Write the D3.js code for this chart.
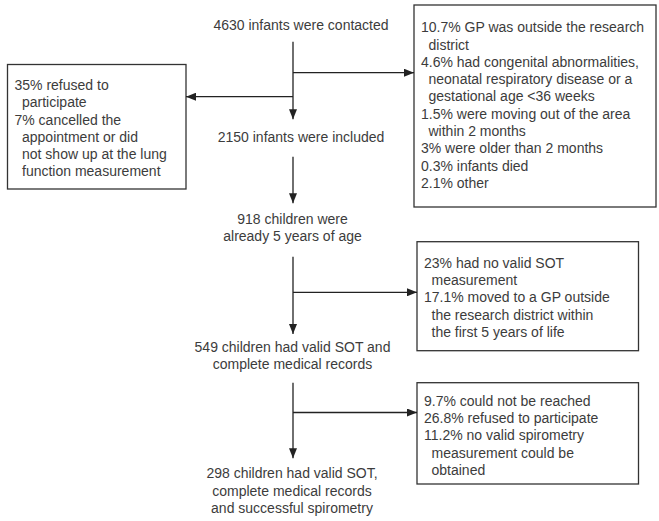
<!DOCTYPE html>
<html>
<head>
<meta charset="utf-8">
<script src="https://cdn.jsdelivr.net/npm/d3@7"></script>
<style>
  body { margin: 0; background: #fff; }
  text { font-family: "Liberation Sans", Arial, sans-serif; font-size: 14px; fill: #3c3c3c; }
</style>
</head>
<body>
<div id="chart"></div>
<script>
// flow chart text, one array per box
var mainSteps = [
  ["4630 infants were contacted"],
  ["2150 infants were included"],
  ["918 children were", "already 5 years of age"],
  ["549 children had valid SOT and", "complete medical records"],
  ["298 children had valid SOT,", "complete medical records", "and successful spirometry"]
];

var excludedLeft = [
  ["35% refused to", "participate"],
  ["7% cancelled the", "appointment or did", "not show up at the lung", "function measurement"]
];

var excludedFirst = [
  ["10.7% GP was outside the research", "district"],
  ["4.6% had congenital abnormalities,", "neonatal respiratory disease or a", "gestational age <36 weeks"],
  ["1.5% were moving out of the area", "within 2 months"],
  ["3% were older than 2 months"],
  ["0.3% infants died"],
  ["2.1% other"]
];

var excludedSecond = [
  ["23% had no valid SOT", "measurement"],
  ["17.1% moved to a GP outside", "the research district within", "the first 5 years of life"]
];

var excludedThird = [
  ["9.7% could not be reached"],
  ["26.8% refused to participate"],
  ["11.2% no valid spirometry", "measurement could be", "obtained"]
];

var svgWidth = 659;
var svgHeight = 521;
var lineH = 17.3;
var midX = 293;
var indent = 7.5;

var svg = d3.select("#chart")
  .append("svg")
  .attr("width", svgWidth)
  .attr("height", svgHeight);

// arrow head
svg.append("defs").append("marker")
  .attr("id", "arrow")
  .attr("viewBox", "0 0 10 8")
  .attr("refX", 10)
  .attr("refY", 4)
  .attr("markerWidth", 10)
  .attr("markerHeight", 8)
  .attr("markerUnits", "userSpaceOnUse")
  .attr("orient", "auto")
  .append("path")
  .attr("d", "M0,0 L10,4 L0,8 Z")
  .attr("fill", "#222");

// main step labels (centre x, first-line centre y)
var stepX = [301, 301, 292.5, 292.5, 292];
var stepY = [25, 137.3, 219, 346.7, 473.3];

mainSteps.forEach(function(lines, i) {
  svg.append("text")
    .attr("text-anchor", "middle")
    .selectAll("tspan")
    .data(lines)
    .enter()
    .append("tspan")
    .attr("x", stepX[i])
    .attr("y", (d, j) => stepY[i] + j * lineH)
    .attr("dy", "0.35em")
    .text(d => d);
});

// exclusion boxes
var boxes = [
  {items: excludedLeft,   x0: 7.5,  x1: 186,   y0: 64.5,  y1: 189,   first: 85},
  {items: excludedFirst,  x0: 414,  x1: 656,   y0: 5,     y1: 207,   first: 27.3},
  {items: excludedSecond, x0: 417,  x1: 638.5, y0: 241.7, y1: 350.7, first: 262.7},
  {items: excludedThird,  x0: 417,  x1: 638.5, y0: 382.7, y1: 484,   first: 400.7}
];

boxes.forEach(function(b) {
  svg.append("rect")
    .attr("x", b.x0)
    .attr("y", b.y0)
    .attr("width", b.x1 - b.x0)
    .attr("height", b.y1 - b.y0)
    .attr("fill", "none")
    .attr("stroke", "#333")
    .attr("stroke-width", 1.3);

  var rows = [];
  b.items.forEach(function(item) {
    item.forEach(function(line, k) {
      rows.push({text: line, sub: k > 0});
    });
  });

  svg.append("text")
    .selectAll("tspan")
    .data(rows)
    .enter()
    .append("tspan")
    .attr("x", d => b.x0 + 7 + (d.sub ? indent : 0))
    .attr("y", (d, j) => b.first + j * lineH)
    .attr("dy", "0.35em")
    .text(d => d.text);
});

// connectors
var links = [
  [midX, 41.7, midX, 119.3],
  [midX, 72.7, 414, 72.7],
  [midX, 96.7, 186, 96.7],
  [midX, 156.7, midX, 203.3],
  [midX, 256.7, midX, 334],
  [midX, 292.3, 417, 292.3],
  [midX, 382.7, midX, 458.3],
  [midX, 412.5, 417, 412.5]
];

svg.selectAll("line.link")
  .data(links)
  .enter()
  .append("line")
  .attr("class", "link")
  .attr("x1", d => d[0])
  .attr("y1", d => d[1])
  .attr("x2", d => d[2])
  .attr("y2", d => d[3])
  .attr("stroke", "#222")
  .attr("stroke-width", 1.3)
  .attr("marker-end", "url(#arrow)");
</script>
</body>
</html>
